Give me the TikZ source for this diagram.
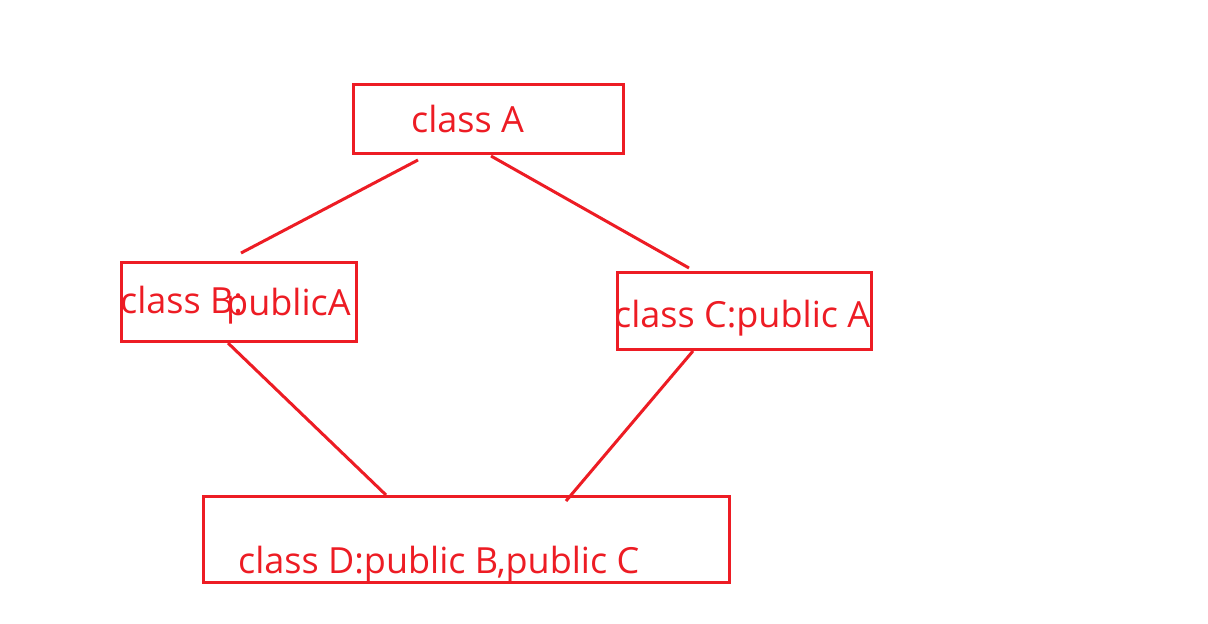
\documentclass[tikz,border=0pt]{standalone}
\usepackage{fontspec}
\setmainfont{Open Sans}
\definecolor{pred}{RGB}{237,28,36}
\begin{document}
\begin{tikzpicture}[x=1pt,y=-1pt,
  box/.style={draw=pred,line width=3pt,rectangle,inner sep=0pt},
  lbl/.style={anchor=base west,inner sep=0pt,text=pred,font=\fontsize{36}{42}\selectfont},
  conn/.style={draw=pred,line width=3pt}]
\useasboundingbox (0,0) rectangle (1208,624);
\fill[white] (0,0) rectangle (1208,624);
\node[box,minimum width=270pt,minimum height=69pt] (A) at (488,118.5) {};
\node[box,minimum width=235pt,minimum height=79pt] (B) at (238.5,301.5) {};
\node[box,minimum width=254pt,minimum height=77pt] (C) at (744,310.5) {};
\node[box,minimum width=526pt,minimum height=86pt] (D) at (466,539) {};
\node[lbl] (tA) at (411,132) {class A};
\node[lbl] (tB1) at (120,313) {class B:};
\node[lbl] (tB2) at (226,315) {publicA};
\node[lbl] (tC) at (614,327) {class C:public A};
\node[lbl] (tD) at (238,573) {class D:public B,public C};
\coordinate (a1) at (418,160);
\coordinate (b1) at (241,253);
\coordinate (a2) at (491,156);
\coordinate (c1) at (689,268);
\coordinate (b2) at (228,343);
\coordinate (d1) at (386,495);
\coordinate (c2) at (693,351);
\coordinate (d2) at (566,501);
\draw[conn] (a1) -- (b1);
\draw[conn] (a2) -- (c1);
\draw[conn] (b2) -- (d1);
\draw[conn] (c2) -- (d2);
\end{tikzpicture}
\end{document}
